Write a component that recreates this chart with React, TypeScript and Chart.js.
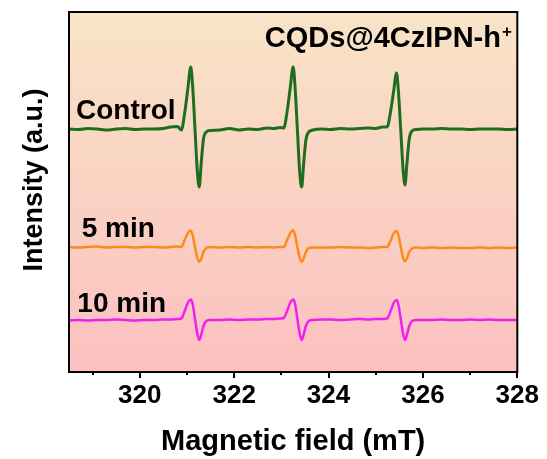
import React, { useEffect, useRef } from "react";
import { Chart, registerables } from "chart.js";

Chart.register(...registerables);

// Magnetic field (mT) sample positions shared by all three spectra
const fieldMT = [
  318.5, 318.7, 318.9, 319.1, 319.3, 319.5, 319.7, 319.9, 320.1, 320.3, 320.5, 320.65, 320.8,
  320.88, 320.96, 321.02, 321.08, 321.12, 321.17, 321.22, 321.26, 321.3, 321.35, 321.41, 321.5,
  321.7, 321.9, 322.1, 322.3, 322.5, 322.7, 322.85, 322.97,
  323.05, 323.13, 323.19, 323.25, 323.29, 323.34, 323.39, 323.43, 323.47, 323.52, 323.58, 323.67,
  323.85, 324.05, 324.25, 324.45, 324.65, 324.85, 325.0, 325.14,
  325.24, 325.32, 325.38, 325.44, 325.48, 325.53, 325.58, 325.62, 325.66, 325.71, 325.77, 325.86,
  326.0, 326.2, 326.4, 326.6, 326.8, 327.0, 327.2, 327.4, 327.6, 327.8, 328.0,
];

// Intensity (a.u., offset traces)
const controlIntensity = [
  24.3, 24.25, 24.35, 24.3, 24.2, 24.3, 24.35, 24.25, 24.3, 24.3, 24.35, 24.5, 24.55,
  24.2, 26.2, 28.4, 30.5, 28.6, 24.3, 20.0, 18.5, 20.8, 23.3, 24.0, 24.15,
  24.2, 24.35, 24.2, 24.3, 24.25, 24.4, 24.35, 24.45,
  24.4, 26.3, 28.5, 30.5, 28.5, 24.2, 19.9, 18.5, 20.7, 23.2, 24.0, 24.2,
  24.3, 24.25, 24.35, 24.3, 24.35, 24.4, 24.35, 24.5,
  24.5, 26.2, 28.1, 29.9, 28.1, 24.2, 20.2, 18.7, 20.8, 23.3, 24.1, 24.25,
  24.3, 24.3, 24.35, 24.3, 24.3, 24.25, 24.3, 24.3, 24.3, 24.25, 24.3,
];

const min5Intensity = [
  12.5, 12.45, 12.5, 12.55, 12.45, 12.5, 12.5, 12.45, 12.5, 12.5, 12.45, 12.5, 12.55,
  12.5, 13.3, 13.9, 14.15, 13.7, 12.5, 11.4, 11.0, 11.3, 12.0, 12.4, 12.5,
  12.45, 12.5, 12.45, 12.5, 12.45, 12.5, 12.45, 12.5,
  12.5, 13.3, 13.9, 14.2, 13.7, 12.5, 11.4, 11.0, 11.3, 12.0, 12.4, 12.45,
  12.45, 12.45, 12.5, 12.45, 12.45, 12.4, 12.45, 12.5,
  12.5, 13.2, 13.85, 14.1, 13.7, 12.5, 11.4, 11.05, 11.35, 12.0, 12.35, 12.45,
  12.4, 12.45, 12.4, 12.45, 12.4, 12.4, 12.45, 12.4, 12.45, 12.4, 12.45,
];

const min10Intensity = [
  5.15, 5.2, 5.15, 5.2, 5.2, 5.25, 5.2, 5.15, 5.2, 5.2, 5.25, 5.25, 5.3,
  5.35, 6.2, 6.95, 7.25, 6.8, 5.3, 3.8, 3.2, 3.7, 4.6, 5.1, 5.2,
  5.2, 5.25, 5.2, 5.25, 5.25, 5.3, 5.3, 5.35,
  5.4, 6.2, 6.95, 7.25, 6.8, 5.3, 3.8, 3.2, 3.7, 4.6, 5.1, 5.2,
  5.25, 5.25, 5.2, 5.25, 5.3, 5.25, 5.3, 5.3,
  5.35, 6.15, 6.9, 7.2, 6.75, 5.3, 3.8, 3.2, 3.7, 4.6, 5.1, 5.2,
  5.2, 5.2, 5.25, 5.2, 5.2, 5.25, 5.2, 5.25, 5.2, 5.2, 5.2,
];

const seriesNames = ["Control", "5 min", "10 min"];
const xTickValues = [319, 320, 321, 322, 323, 324, 325, 326, 327, 328];
const xTickLabels = ["", "320", "", "322", "", "324", "", "326", "", "328"];
const xMin = 318.5;
const xMax = 328;
const yMin = 0;
const yMax = 36;

const FONT = "'Liberation Sans', Arial, Helvetica, sans-serif";

// annotation anchors in data coordinates (left, baseline)
const seriesLabelAnchors = [
  { text: "Control", x: 318.648, y: 25.35 },
  { text: "5 min", x: 318.77, y: 13.46 },
  { text: "10 min", x: 318.676, y: 6.05 },
];
const sampleTitle = { text: "CQDs@4CzIPN-h", sup: "+", x: 322.65, y: 32.54 };

const decorPlugin = {
  id: "decor",
  beforeDatasetsDraw(chart: any) {
    const { ctx, chartArea: a } = chart;
    ctx.save();
    const g = ctx.createLinearGradient(0, a.top, 0, a.bottom);
    g.addColorStop(0, "#F8E4C6");
    g.addColorStop(1, "#FCC0C0");
    ctx.fillStyle = g;
    ctx.fillRect(a.left, a.top, a.right - a.left, a.bottom - a.top);
    ctx.restore();
  },
  afterDraw(chart: any) {
    const { ctx, chartArea: a, scales } = chart;
    const xs = scales.x;
    const ys = scales.y;
    ctx.save();
    // frame
    ctx.strokeStyle = "#000";
    ctx.lineWidth = 2;
    ctx.strokeRect(a.left, a.top, a.right - a.left, a.bottom - a.top);
    // ticks
    xTickValues.forEach((v, i) => {
      const px = Math.round(xs.getPixelForValue(v));
      const len = xTickLabels[i] ? 6 : 3;
      ctx.beginPath();
      ctx.moveTo(px, a.bottom);
      ctx.lineTo(px, a.bottom + len);
      ctx.stroke();
    });
    // series labels
    ctx.fillStyle = "#000";
    ctx.textBaseline = "alphabetic";
    ctx.textAlign = "left";
    ctx.font = `bold 28px ${FONT}`;
    seriesLabelAnchors.forEach((l) => {
      ctx.fillText(l.text, xs.getPixelForValue(l.x), ys.getPixelForValue(l.y));
    });
    // sample title
    ctx.font = `bold 29px ${FONT}`;
    const tx = xs.getPixelForValue(sampleTitle.x);
    const ty = ys.getPixelForValue(sampleTitle.y);
    ctx.fillText(sampleTitle.text, tx, ty);
    const w = ctx.measureText(sampleTitle.text).width;
    ctx.font = `bold 17px ${FONT}`;
    ctx.fillText(sampleTitle.sup, tx + w + 1, ty - 10);
    // y axis title
    ctx.font = `bold 27px ${FONT}`;
    ctx.textAlign = "center";
    ctx.translate(42, 180);
    ctx.rotate(-Math.PI / 2);
    ctx.fillText("Intensity (a.u.)", 0, 0);
    ctx.restore();
  },
};

export default function App() {
  const canvasRef = useRef<HTMLCanvasElement | null>(null);

  useEffect(() => {
    document.body.style.margin = "0";
    const canvas = canvasRef.current;
    if (!canvas) return;
    const mk = (vals: number[]) => fieldMT.map((x, i) => ({ x, y: vals[i] }));
    const colors = ["#1E6E1E", "#FF8A1C", "#F020F0"];
    const widths = [3, 2.5, 2.5];
    const all = [controlIntensity, min5Intensity, min10Intensity];
    const chart = new Chart(canvas, {
      type: "line",
      data: {
        datasets: all.map((vals, i) => ({
          label: seriesNames[i],
          data: mk(vals),
          borderColor: colors[i],
          borderWidth: widths[i],
          pointRadius: 0,
          cubicInterpolationMode: "monotone",
          fill: false,
        })),
      },
      options: {
        responsive: false,
        animation: false,
        layout: { padding: { top: 12, right: 29, left: 0, bottom: 0 } },
        plugins: {
          legend: { display: false },
          tooltip: { enabled: false },
          title: { display: false },
        },
        scales: {
          x: {
            type: "linear",
            min: xMin,
            max: xMax,
            afterBuildTicks: (s: any) => {
              s.ticks = xTickValues.map((v) => ({ value: v }));
            },
            afterFit: (s: any) => {
              s.height = 87;
            },
            grid: { display: false, drawTicks: false },
            border: { display: false },
            ticks: {
              autoSkip: false,
              maxRotation: 0,
              minRotation: 0,
              padding: 8,
              color: "#000",
              font: { family: FONT, size: 26, weight: "bold" },
              callback: (v: any) => {
                const idx = xTickValues.indexOf(Number(v));
                return idx >= 0 ? xTickLabels[idx] : "";
              },
            },
            title: {
              display: true,
              text: "Magnetic field (mT)",
              color: "#000",
              padding: 0,
              font: { family: FONT, size: 29, weight: "bold" },
            },
          },
          y: {
            type: "linear",
            min: yMin,
            max: yMax,
            afterFit: (s: any) => {
              s.width = 69;
            },
            grid: { display: false, drawTicks: false },
            border: { display: false },
            ticks: { display: false },
          },
        },
      } as any,
      plugins: [decorPlugin],
    });
    return () => chart.destroy();
  }, []);

  return (
    <div style={{ width: 547, height: 459 }}>
      <canvas ref={canvasRef} width={547} height={459} />
    </div>
  );
}
